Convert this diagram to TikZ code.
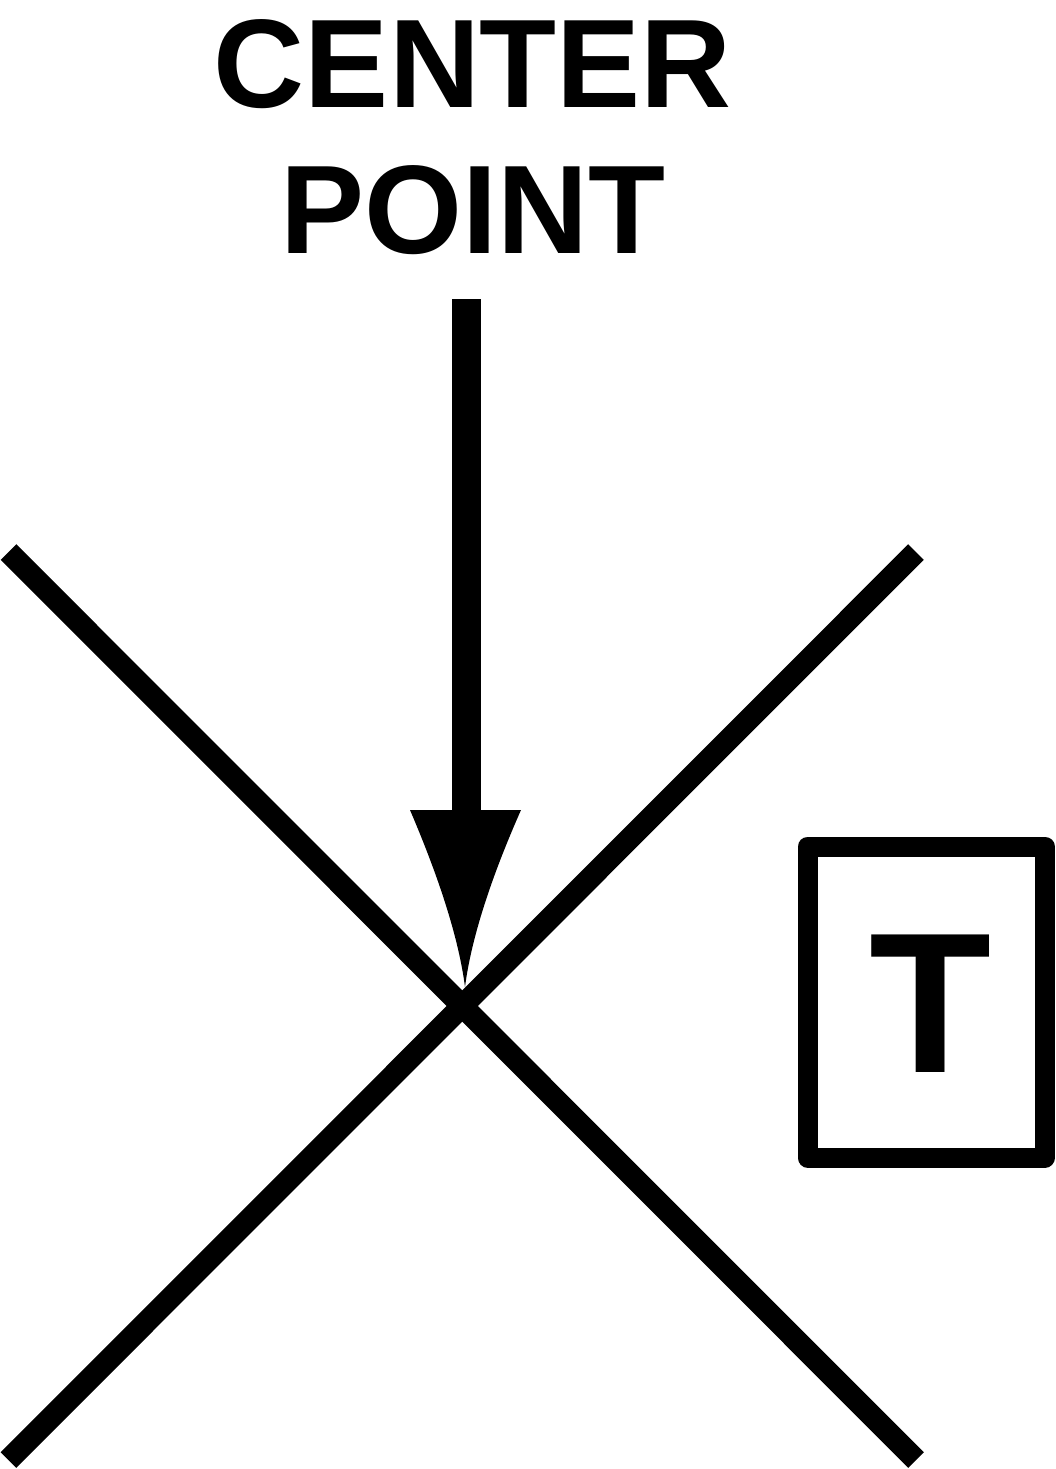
\documentclass[tikz,border=0pt]{standalone}
\usepackage{fontspec}
\setmainfont{Liberation Sans}
\begin{document}
\begin{tikzpicture}[x=0.5pt, y=-0.5pt, line join=round, line cap=butt]
	\useasboundingbox (0,0) rectangle (1056,1469);
	\node[anchor=base, inner sep=0pt, font=\fontsize{63}{73}\selectfont\bfseries] (lblcenter) at (473,107) {CENTER};
	\node[anchor=base, inner sep=0pt, font=\fontsize{63}{73}\selectfont\bfseries] (lblpoint) at (473,253) {POINT};
	\coordinate (top) at (466,299);
	\coordinate (headbase) at (466,812);
	\coordinate (tip) at (465,987);
	\coordinate (nw) at (8.5,552);
	\coordinate (se) at (916,1460);
	\coordinate (ne) at (916,552);
	\coordinate (sw) at (8.5,1460);
	\draw[line width=11pt] (nw) -- (se);
	\draw[line width=11pt] (ne) -- (sw);
	\draw[line width=14.5pt] (top) -- (headbase);
	\fill (410,810) -- (521,810) .. controls (490,880) and (471,940) .. (tip) .. controls (459,940) and (440,880) .. (410,810) -- cycle;
	\node[draw, line width=10pt, minimum width=118.75pt, minimum height=155.5pt, inner sep=0pt] (tbox) at (926.25,1002) {};
	\node[anchor=base, inner sep=0pt, font=\fontsize{100}{100}\selectfont\bfseries] (tletter) at (931,1072) {T};
\end{tikzpicture}
\end{document}
